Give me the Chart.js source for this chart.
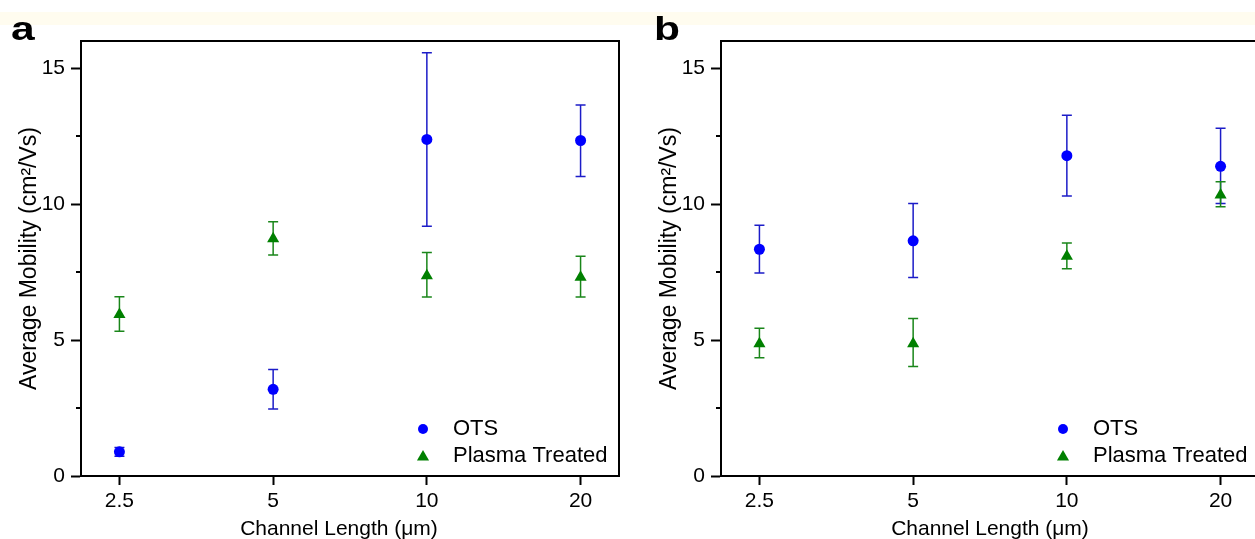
<!DOCTYPE html>
<html>
<head>
<meta charset="utf-8">
<script src="https://cdn.jsdelivr.net/npm/chart.js@4.4.1/dist/chart.umd.min.js"></script>
<style>
html,body{margin:0;padding:0;width:1255px;height:539px;overflow:hidden;background:#fff;position:relative;}
#band{position:absolute;left:0;top:12px;width:1255px;height:13px;background:#fffcef;}
.wrap{position:absolute;top:0;width:630px;height:539px;}
#wa{left:0;}
#wb{left:640px;}
.lbl{position:absolute;top:8px;font:bold 34px "Liberation Sans",Arial,sans-serif;color:#000;line-height:40px;transform:scaleX(1.25);transform-origin:0 0;}
</style>
</head>
<body>
<div id="band"></div>
<div class="wrap" id="wa"><canvas id="ca" width="630" height="539"></canvas></div>
<div class="wrap" id="wb"><canvas id="cb" width="630" height="539"></canvas></div>
<div class="lbl" style="left:11px">a</div>
<div class="lbl" style="left:654px">b</div>
<script>
// ---- data ----
const categories = ['2.5', '5', '10', '20'];
const yTicks = [0, 5, 10, 15];
const yMinorTicks = [2.5, 7.5, 12.5];
const seriesNames = ['OTS', 'Plasma Treated'];
const xTitle = 'Channel Length (μm)';
const yTitle = 'Average Mobility (cm²/Vs)';

// panel a
const otsA      = [0.89, 3.19, 12.38, 12.34];
const otsA_low  = [0.73, 2.46, 9.19, 11.02];
const otsA_high = [1.05, 3.92, 15.57, 13.65];
const plasmaA      = [5.94, 8.73, 7.37, 7.31];
const plasmaA_low  = [5.32, 8.13, 6.58, 6.58];
const plasmaA_high = [6.59, 9.35, 8.22, 8.08];

// panel b
const otsB      = [8.34, 8.65, 11.78, 11.39];
const otsB_low  = [7.47, 7.30, 10.30, 10.02];
const otsB_high = [9.22, 10.02, 13.27, 12.79];
const plasmaB      = [4.86, 4.86, 8.08, 10.34];
const plasmaB_low  = [4.35, 4.03, 7.62, 9.90];
const plasmaB_high = [5.43, 5.79, 8.57, 10.82];

const FONT = '"Liberation Sans", Arial, sans-serif';
const BLUE = '#0000ff', BLUE_ERR = '#1c1cc8';
const GREEN = '#008000', GREEN_ERR = '#1a861a';

const errorBarPlugin = {
  id: 'errorBars',
  beforeDatasetsDraw(chart) {
    const ctx = chart.ctx, xs = chart.scales.x, ys = chart.scales.y;
    chart.data.datasets.forEach(ds => {
      ctx.save();
      ctx.strokeStyle = ds.errColor;
      ctx.lineWidth = 1.5;
      ds.data.forEach((p, i) => {
        const x = xs.getPixelForValue(p.x);
        const yl = ys.getPixelForValue(ds.errLow[i]);
        const yh = ys.getPixelForValue(ds.errHigh[i]);
        ctx.beginPath();
        ctx.moveTo(x, yl); ctx.lineTo(x, yh);
        ctx.moveTo(x - 5, yl); ctx.lineTo(x + 5, yl);
        ctx.moveTo(x - 5, yh); ctx.lineTo(x + 5, yh);
        ctx.stroke();
      });
      ctx.restore();
    });
  }
};

function drawMarker(ctx, style, x, y, r, color) {
  ctx.fillStyle = color;
  ctx.beginPath();
  if (style === 'circle') {
    ctx.arc(x, y, r, 0, Math.PI * 2);
  } else {
    for (let k = 0; k < 3; k++) {
      const a = -Math.PI / 2 + k * 2 * Math.PI / 3;
      const px = x + Math.cos(a) * r, py = y + Math.sin(a) * r;
      if (k === 0) ctx.moveTo(px, py); else ctx.lineTo(px, py);
    }
    ctx.closePath();
  }
  ctx.fill();
}

const framePlugin = {
  id: 'frameMinorLegend',
  afterDraw(chart, args, opts) {
    const ctx = chart.ctx, a = chart.chartArea, ys = chart.scales.y;
    ctx.save();
    ctx.strokeStyle = '#000';
    ctx.lineWidth = 2;
    ctx.strokeRect(a.left, a.top, a.right - a.left, a.bottom - a.top);
    ctx.beginPath();
    yMinorTicks.forEach(v => {
      const y = Math.round(ys.getPixelForValue(v));
      ctx.moveTo(a.left - 5, y); ctx.lineTo(a.left, y);
    });
    ctx.stroke();
    // x axis title
    ctx.fillStyle = '#000';
    ctx.font = '21px ' + FONT;
    ctx.textAlign = 'center';
    ctx.textBaseline = 'middle';
    ctx.fillText(xTitle, (a.left + a.right) / 2 + (opts.titleShift || 0), a.bottom + 53);
    // legend
    const lx = a.right - 196;
    const rows = [a.bottom - 47, a.bottom - 20];
    chart.data.datasets.forEach((ds, i) => {
      drawMarker(ctx, ds.pointStyle, lx, rows[i] + (ds.pointStyle === 'triangle' ? 1 : 0), ds.pointStyle === 'circle' ? 5 : 7, ds.backgroundColor);
      ctx.fillStyle = '#000';
      ctx.font = '22px ' + FONT;
      ctx.textBaseline = 'middle';
      ctx.textAlign = 'left';
      ctx.fillText(ds.label, lx + 30, rows[i]);
    });
    ctx.restore();
  }
};

function makeChart(id, ots, otsLo, otsHi, pl, plLo, plHi, titleShift) {
  return new Chart(document.getElementById(id), {
    type: 'scatter',
    data: {
      datasets: [
        { label: seriesNames[0], data: ots.map((v, i) => ({ x: i + 1, y: v })),
          errLow: otsLo, errHigh: otsHi, errColor: BLUE_ERR,
          pointStyle: 'circle', pointRadius: 5.5, borderWidth: 0,
          backgroundColor: BLUE, borderColor: BLUE },
        { label: seriesNames[1], data: pl.map((v, i) => ({ x: i + 1, y: v })),
          errLow: plLo, errHigh: plHi, errColor: GREEN_ERR,
          pointStyle: 'triangle', pointRadius: 7, borderWidth: 0,
          backgroundColor: GREEN, borderColor: GREEN }
      ]
    },
    options: {
      responsive: false, animation: false, devicePixelRatio: 1,
      layout: { padding: { left: 0, right: 11, top: 41, bottom: 0 } },
      plugins: { legend: { display: false }, tooltip: { enabled: false },
                 frameMinorLegend: { titleShift: titleShift } },
      scales: {
        x: {
          type: 'linear', min: 0.75, max: 4.25,
          afterBuildTicks: s => { s.ticks = categories.map((c, i) => ({ value: i + 1 })); },
          afterFit: s => { s.height = 63; },
          ticks: { callback: v => categories[Math.round(v) - 1], color: '#000',
                   font: { family: FONT, size: 21 }, padding: 4, maxRotation: 0, autoSkip: false },
          grid: { drawOnChartArea: false, drawTicks: true, tickLength: 9, tickColor: '#000', tickWidth: 2 },
          border: { display: true, color: '#000', width: 2 },
          title: { display: false }
        },
        y: {
          type: 'linear', min: 0, max: 16,
          afterBuildTicks: s => { s.ticks = yTicks.map(v => ({ value: v })); },
          afterFit: s => { s.width = 81; },
          ticks: { color: '#000', font: { family: FONT, size: 21 }, padding: 6 },
          grid: { drawOnChartArea: false, drawTicks: true, tickLength: 10, tickColor: '#000', tickWidth: 2 },
          border: { display: true, color: '#000', width: 2 },
          title: { display: true, text: yTitle, color: '#000',
                   font: { family: FONT, size: 23, lineHeight: 1.2 }, padding: { top: 16, bottom: 0 } }
        }
      }
    },
    plugins: [errorBarPlugin, framePlugin]
  });
}

makeChart('ca', otsA, otsA_low, otsA_high, plasmaA, plasmaA_low, plasmaA_high, -11);
makeChart('cb', otsB, otsB_low, otsB_high, plasmaB, plasmaB_low, plasmaB_high, 0);
</script>
</body>
</html>
